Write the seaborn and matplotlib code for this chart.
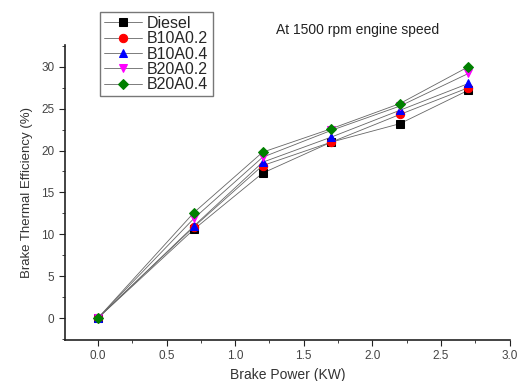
import matplotlib
matplotlib.use("Agg")
import matplotlib.pyplot as plt
import seaborn as sns
import pandas as pd
from matplotlib.ticker import MultipleLocator

power = [0.0, 0.7, 1.2, 1.7, 2.2, 2.7]
diesel = [0.0, 10.6, 17.3, 21.0, 23.2, 27.2]
b10a02 = [0.0, 10.9, 18.2, 21.0, 24.3, 27.5]
b10a04 = [0.0, 11.0, 18.6, 21.6, 24.8, 28.0]
b20a02 = [0.0, 11.9, 19.2, 22.4, 25.3, 29.2]
b20a04 = [0.0, 12.6, 19.8, 22.6, 25.6, 30.0]
names = ["Diesel", "B10A0.2", "B10A0.4", "B20A0.2", "B20A0.4"]

sns.set_style("ticks")
plt.rcParams['font.family'] = ['Liberation Sans', 'DejaVu Sans']

rows = []
for n, vals in zip(names, [diesel, b10a02, b10a04, b20a02, b20a04]):
    for p, v in zip(power, vals):
        rows.append({"Fuel": n, "Power": p, "BTE": v})
df = pd.DataFrame(rows)

colors = {"Diesel": "black", "B10A0.2": "red", "B10A0.4": "blue", "B20A0.2": "magenta", "B20A0.4": "green"}
markers = {"Diesel": "s", "B10A0.2": "o", "B10A0.4": "^", "B20A0.2": "v", "B20A0.4": "D"}

fig = plt.figure(figsize=(5.2, 3.81), dpi=100)
ax = fig.add_axes([0.125, 0.108, 0.855, 0.774])
for n in names:
    sub = df[df.Fuel == n]
    sns.lineplot(data=sub, x="Power", y="BTE", ax=ax, color="#666666", lw=0.6,
                 marker=markers[n], markersize=6 if markers[n] != "D" else 5,
                 markerfacecolor=colors[n], markeredgecolor=colors[n], label=n)

ax.set_xlim(-0.24, 3.0)
ax.set_ylim(-2.6, 32.6)
ax.xaxis.set_major_locator(MultipleLocator(0.5))
ax.xaxis.set_minor_locator(MultipleLocator(0.25))
ax.yaxis.set_major_locator(MultipleLocator(5))
ax.yaxis.set_minor_locator(MultipleLocator(2.5))
for s in ["top", "right"]:
    ax.spines[s].set_visible(False)
for s in ["left", "bottom"]:
    ax.spines[s].set_linewidth(1.2)
    ax.spines[s].set_color("#222222")
ax.tick_params(axis="both", which="major", length=4, labelsize=8.5, labelcolor="#444444", color="#222222")
ax.tick_params(axis="both", which="minor", length=2, color="#222222")
ax.set_xlabel("Brake Power (KW)", fontsize=10, color="#333333", labelpad=4)
ax.set_ylabel("Brake Thermal Efficiency (%)", fontsize=9.5, color="#333333", labelpad=6)

leg = ax.legend(loc="upper left", bbox_to_anchor=(0.079, 1.112), frameon=True, fancybox=False,
                edgecolor="#555555", fontsize=11.5, handlelength=2.4, handletextpad=0.3,
                labelspacing=0.02, borderpad=0.25, borderaxespad=0)
leg.get_frame().set_linewidth(1.0)
fig.text(0.687, 0.92, "At 1500 rpm engine speed", fontsize=10, color="#222222", ha="center", va="center")

fig.savefig("out.png", dpi=100)
